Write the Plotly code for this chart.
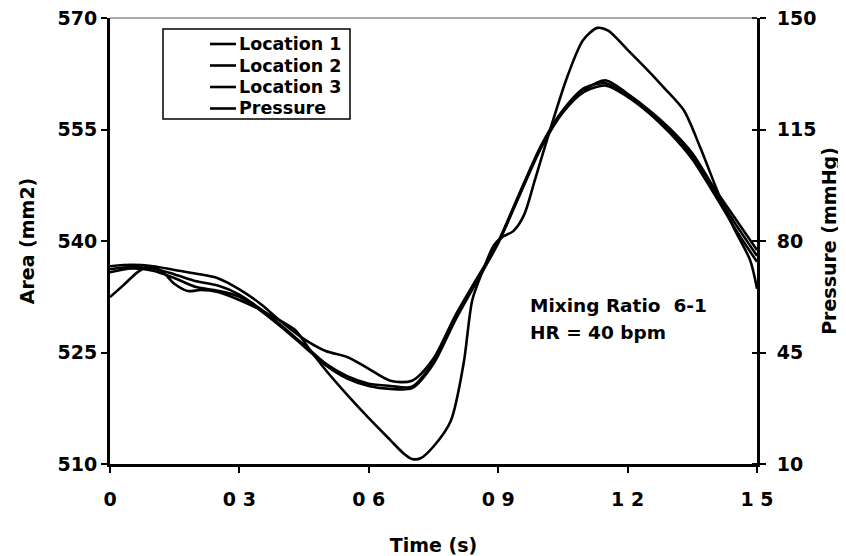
import plotly.graph_objects as go

# ---- data ----
loc_time = [0, 0.05, 0.1, 0.15, 0.2, 0.25, 0.3, 0.35, 0.4, 0.45, 0.5, 0.55, 0.6, 0.65, 0.7,
            0.75, 0.8, 0.85, 0.9, 0.95, 1.0, 1.05, 1.1, 1.15, 1.2, 1.25, 1.3, 1.35, 1.4, 1.45, 1.5]
location1 = [536.6, 536.8, 536.6, 536.1, 535.6, 535.0, 533.5, 531.5, 529.0, 526.8, 525.2, 524.4,
             522.8, 521.2, 521.2, 524.2, 529.9, 534.9, 539.8, 546.4, 552.7, 557.4, 560.3, 561.6,
             559.8, 557.6, 555.0, 551.8, 547.2, 543.0, 538.8]
location2 = [536.2, 536.5, 536.3, 535.5, 534.6, 534.0, 532.8, 530.8, 528.5, 526.0, 523.5, 521.8,
             520.8, 520.5, 520.4, 523.8, 529.6, 534.7, 539.9, 546.5, 552.9, 557.6, 560.6, 561.2,
             559.6, 557.4, 554.7, 551.4, 546.8, 542.3, 538.0]
location3 = [535.8, 536.3, 536.0, 535.0, 533.8, 533.3, 532.5, 530.6, 528.3, 525.8, 523.3, 521.5,
             520.5, 520.1, 520.2, 523.5, 529.3, 534.5, 539.7, 546.2, 552.6, 557.3, 560.1, 560.9,
             559.4, 557.2, 554.4, 551.0, 546.4, 541.6, 537.2]

press_time = [0, 0.03, 0.065, 0.09, 0.12, 0.15, 0.18, 0.21, 0.25, 0.3, 0.35, 0.4, 0.43, 0.46,
              0.5, 0.55, 0.6, 0.65, 0.68, 0.7, 0.72, 0.75, 0.79, 0.82, 0.84, 0.865, 0.89, 0.91,
              0.935, 0.96, 0.985, 1.02, 1.06, 1.097, 1.13, 1.155, 1.2, 1.253, 1.283, 1.33, 1.368,
              1.41, 1.445, 1.484, 1.5]
pressure = [62.4, 66.0, 70.3, 72.0, 70.5, 66.5, 64.3, 64.6, 64.0, 61.5, 58.3, 54.6, 52.0, 46.5,
            39.5, 31.7, 24.4, 17.5, 13.4, 11.6, 11.8, 15.5, 23.5, 41.7, 61.5, 70.9, 78.7, 81.3,
            83.1, 88.2, 99.1, 114.8, 131.5, 143.1, 146.9, 146.0, 140.0, 132.7, 128.3, 121.1, 109.5,
            95.1, 84.4, 74.0, 65.0]

x_tickvals = [0, 0.3, 0.6, 0.9, 1.2, 1.5]
x_ticktext = ["0", "0 3", "0 6", "0 9", "1 2", "1 5"]
area_ticks = [510, 525, 540, 555, 570]
press_ticks = [10, 45, 80, 115, 150]

series_names = ["Location 1", "Location 2", "Location 3", "Pressure"]

FONT = "DejaVu Sans"
def bfont(size):
    return dict(family=FONT, size=size, color="black", weight="bold")

# the page body has an 8px margin, so the figure starts at (8, 8) on screen
OFF = 8
W, H = 846 - OFF, 556 - OFF
# plot area in screen pixels
L, R, T, B = 110, 757, 18, 464
PW, PH = R - L, B - T
def px(xs):
    return (xs - L) / PW
def py(ys):
    return (B - ys) / PH

fig = go.Figure()
line = dict(color="black", width=2.6, shape="spline", smoothing=0.8)
for name, ys in zip(series_names[:3], [location1, location2, location3]):
    fig.add_trace(go.Scatter(x=loc_time, y=ys, mode="lines", name=name, line=line))
fig.add_trace(go.Scatter(x=press_time, y=pressure, mode="lines", name=series_names[3],
                         line=line, yaxis="y2"))

axis_common = dict(showgrid=False, zeroline=False, showline=True, linecolor="black",
                   linewidth=3, ticks="outside", ticklen=6, tickwidth=2, tickcolor="black",
                   automargin=False, tickfont=bfont(19), ticklabeloverflow="allow")

fig.update_layout(
    width=W, height=H,
    margin=dict(l=L - OFF, r=W - (R - OFF), t=T - OFF, b=H - (B - OFF)),
    paper_bgcolor="white", plot_bgcolor="white",
    font=bfont(17),
    showlegend=False,
    xaxis=dict(range=[0, 1.5], tickvals=x_tickvals, ticktext=x_ticktext,
               ticklabelstandoff=10,
               title=dict(text="Time (s)", font=bfont(19), standoff=30), **axis_common),
    yaxis=dict(range=[510, 570], tickvals=area_ticks, ticklabelstandoff=0,
               title=dict(text="Area (mm2)", font=bfont(19), standoff=18), **axis_common),
    yaxis2=dict(range=[10, 150], tickvals=press_ticks, overlaying="y", side="right",
                ticklabelstandoff=7,
                minor=dict(tickvals=press_ticks, ticks="inside", ticklen=5, tickwidth=2,
                           tickcolor="black", showgrid=False),
                title=dict(text="Pressure (mmHg)", font=bfont(19), standoff=8), **axis_common),
)

# thin top border of the plot area
fig.add_shape(type="line", xref="paper", yref="paper", x0=0, x1=1, y0=1, y1=1,
              line=dict(color="#555", width=1))

# legend (frame, line samples, labels)
fig.add_shape(type="rect", xref="paper", yref="paper",
              x0=px(163), x1=px(350), y0=py(119), y1=py(29),
              line=dict(color="black", width=1.5))
legend_rows = [44, 65.5, 87, 108.5]
for name, yr in zip(series_names, legend_rows):
    fig.add_shape(type="line", xref="paper", yref="paper",
                  x0=px(210), x1=px(236), y0=py(yr), y1=py(yr),
                  line=dict(color="black", width=2.6))
    fig.add_annotation(xref="paper", yref="paper", x=px(237), y=py(yr),
                       xanchor="left", yanchor="middle", showarrow=False,
                       text=name, font=bfont(17.5))

fig.add_annotation(xref="paper", yref="paper", x=px(528), y=py(305),
                   xanchor="left", yanchor="middle", showarrow=False,
                   text="Mixing Ratio  6-1", font=bfont(18.5))
fig.add_annotation(xref="paper", yref="paper", x=px(528), y=py(332),
                   xanchor="left", yanchor="middle", showarrow=False,
                   text="HR = 40 bpm", font=bfont(18.5))

fig.write_html("out.html")
